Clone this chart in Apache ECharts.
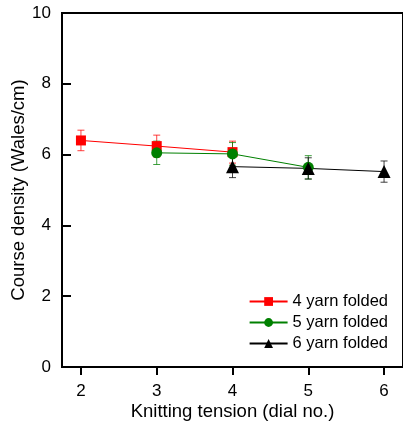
<!DOCTYPE html>
<html>
<head>
<meta charset="utf-8">
<script src="https://cdn.jsdelivr.net/npm/echarts@6/dist/echarts.min.js"></script>
<style>
html,body{margin:0;padding:0;background:#fff;}
#chart{width:403px;height:428px;}
</style>
</head>
<body>
<div id="chart"></div>
<script>
const xTicks = [2, 3, 4, 5, 6];
const seriesNames = ['4 yarn folded', '5 yarn folded', '6 yarn folded'];
const yarn4X = [2, 3, 4];
const yarn4Y = [6.40, 6.24, 6.07];
const yarn4Err = [0.29, 0.31, 0.31];
const yarn5X = [3, 4, 5];
const yarn5Y = [6.05, 6.02, 5.64];
const yarn5Err = [0.33, 0.32, 0.33];
const yarn6X = [4, 5, 6];
const yarn6Y = [5.66, 5.61, 5.52];
const yarn6Err = [0.31, 0.30, 0.30];

const FONT = 'Liberation Sans, Arial, sans-serif';
const chart = echarts.init(document.getElementById('chart'), null, {renderer: 'canvas'});

function pts(xs, ys) { return xs.map((x, i) => [x, ys[i]]); }
function errData(xs, ys, es) { return xs.map((x, i) => [x, ys[i] - es[i], ys[i] + es[i]]); }

function errSeries(name, xs, ys, es, color) {
  return {
    type: 'custom',
    name: name + ' err',
    data: errData(xs, ys, es),
    encode: {x: 0, y: [1, 2]},
    silent: true,
    renderItem: function (params, api) {
      const lo = api.coord([api.value(0), api.value(1)]);
      const hi = api.coord([api.value(0), api.value(2)]);
      const hw = 3.5;
      const st = {stroke: color, lineWidth: 1, opacity: 0.75};
      return {
        type: 'group',
        children: [
          {type: 'line', shape: {x1: lo[0], y1: lo[1], x2: hi[0], y2: hi[1]}, style: st},
          {type: 'line', shape: {x1: lo[0] - hw, y1: lo[1], x2: lo[0] + hw, y2: lo[1]}, style: st},
          {type: 'line', shape: {x1: hi[0] - hw, y1: hi[1], x2: hi[0] + hw, y2: hi[1]}, style: st}
        ]
      };
    }
  };
}

function lineSeries(name, xs, ys, color, symbol, size) {
  return {
    type: 'line',
    name: name,
    data: pts(xs, ys),
    symbol: symbol,
    symbolSize: size,
    showAllSymbol: true,
    itemStyle: {color: color},
    lineStyle: {color: color, width: 1},
    emphasis: {disabled: true}
  };
}

const option = {
  animation: false,
  backgroundColor: '#fff',
  grid: {left: 62, top: 13, right: 0, bottom: 61, show: true, borderColor: '#000', borderWidth: 2, containLabel: false, outerBoundsMode: 'none'},
  legend: {
    orient: 'vertical',
    right: 10,
    top: 288,
    itemWidth: 38,
    itemHeight: 11,
    itemGap: 4,
    align: 'left',
    data: seriesNames,
    textStyle: {fontFamily: FONT, fontSize: 16.5, color: '#000'}
  },
  xAxis: {
    type: 'value',
    min: 1.75,
    max: 6.25,
    name: 'Knitting tension (dial no.)',
    nameLocation: 'middle',
    nameGap: 35,
    nameMoveOverlap: false,
    nameTextStyle: {fontFamily: FONT, fontSize: 18.5, color: '#000'},
    splitLine: {show: false},
    axisLine: {lineStyle: {color: '#000', width: 2}},
    axisTick: {customValues: xTicks, length: 8, inside: false, lineStyle: {color: '#000', width: 2}},
    axisLabel: {customValues: xTicks, margin: 16, fontFamily: FONT, fontSize: 17, color: '#000'}
  },
  yAxis: {
    type: 'value',
    min: 0,
    max: 10,
    interval: 2,
    name: 'Course density (Wales/cm)',
    nameLocation: 'middle',
    nameGap: 34,
    nameMoveOverlap: false,
    nameTextStyle: {fontFamily: FONT, fontSize: 18.5, color: '#000'},
    splitLine: {show: false},
    axisLine: {lineStyle: {color: '#000', width: 2}},
    axisTick: {length: 9, inside: true, lineStyle: {color: '#000', width: 2}},
    axisLabel: {margin: 11, fontFamily: FONT, fontSize: 17, color: '#000'}
  },
  series: [
    errSeries(seriesNames[0], yarn4X, yarn4Y, yarn4Err, '#ff0000'),
    lineSeries(seriesNames[0], yarn4X, yarn4Y, '#ff0000', 'rect', 10),
    errSeries(seriesNames[1], yarn5X, yarn5Y, yarn5Err, '#008000'),
    lineSeries(seriesNames[1], yarn5X, yarn5Y, '#008000', 'circle', 11),
    errSeries(seriesNames[2], yarn6X, yarn6Y, yarn6Err, '#000000'),
    lineSeries(seriesNames[2], yarn6X, yarn6Y, '#000000', 'triangle', 13)
  ]
};
chart.setOption(option);
</script>
</body>
</html>
